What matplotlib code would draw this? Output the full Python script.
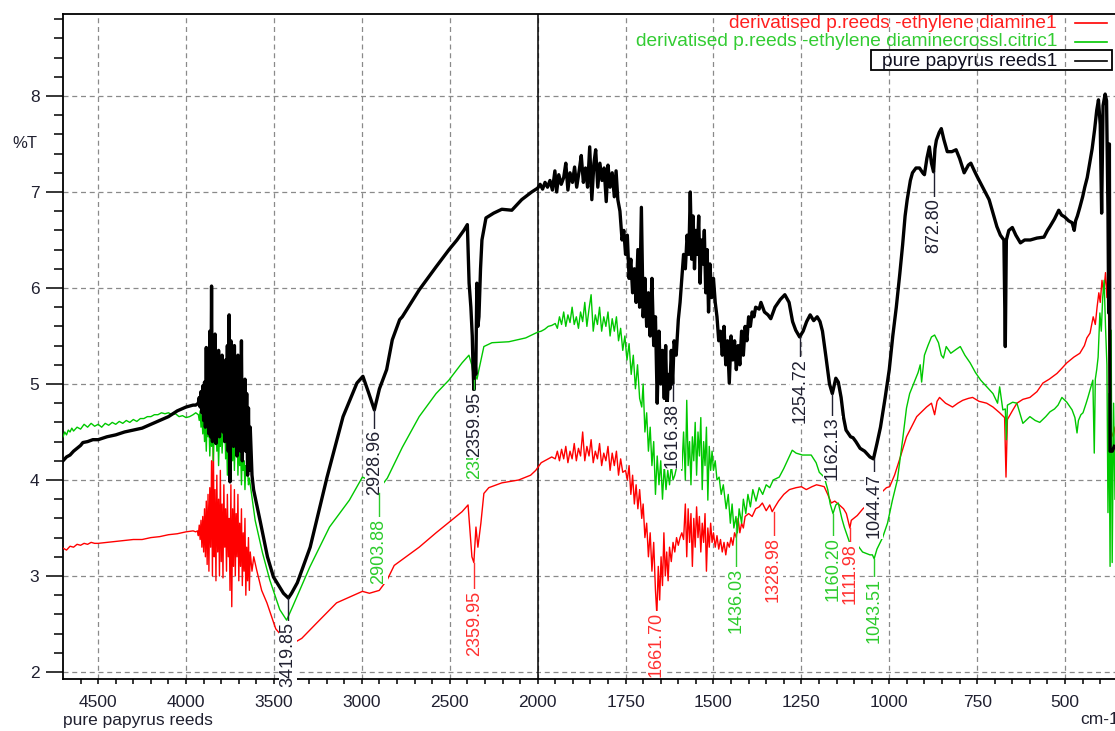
import numpy as np
import matplotlib.pyplot as plt
from matplotlib.lines import Line2D
from matplotlib.patches import Rectangle

plt.rcParams['font.family'] = ['Liberation Sans', 'DejaVu Sans']
NARROW = ['Liberation Sans Narrow', 'Liberation Sans', 'DejaVu Sans']

# ---- spectra (wavenumber cm-1, %T) ----
black_wn = [4700, 4680, 4660, 4640, 4620, 4600, 4587, 4560, 4530, 4500, 4450, 4400, 4350, 4300,
            4250, 4200, 4150, 4100, 4050, 4000, 3960, 3945,
            3930, 3925, 3920, 3915, 3910, 3905, 3900, 3895, 3890, 3885, 3880, 3875, 3870, 3865,
            3860, 3855, 3850, 3845, 3840, 3835, 3830, 3825, 3820, 3815, 3810, 3805, 3800, 3795,
            3790, 3785, 3780, 3775, 3770, 3765, 3760, 3755, 3750, 3745, 3740, 3735, 3730, 3725,
            3720, 3715, 3710, 3705, 3700, 3695, 3690, 3685, 3680, 3675, 3670, 3665, 3660, 3655,
            3650, 3645, 3640, 3635, 3625, 3616,
            3576, 3537, 3503, 3446, 3418, 3400, 3367, 3294, 3198, 3107, 3028, 2994, 2960, 2929,
            2900, 2859, 2827, 2785, 2770, 2674, 2578, 2504, 2459, 2420, 2400, 2390, 2380, 2372,
            2368, 2363, 2358, 2352, 2346, 2340, 2334, 2325, 2317, 2294, 2250, 2204, 2147, 2091,
            2034, 2000,
            1993, 1986, 1979, 1972, 1965, 1958, 1951, 1946, 1940, 1933, 1926, 1920, 1914, 1908,
            1901, 1895, 1889, 1882, 1876, 1870, 1864, 1858, 1852, 1846, 1840, 1835, 1829, 1823,
            1817, 1811, 1805, 1800, 1794, 1788, 1782, 1777, 1772, 1766, 1760,
            1755, 1750, 1745, 1740, 1735, 1730, 1725, 1720, 1715, 1710, 1705, 1700, 1695, 1690,
            1685, 1680, 1675, 1670, 1665, 1660, 1655, 1650, 1645, 1640, 1636, 1632, 1628, 1624,
            1620, 1616, 1612, 1606, 1600, 1595, 1590, 1585, 1580, 1575, 1570, 1566, 1562, 1558,
            1554, 1550, 1546, 1542, 1538, 1534, 1530, 1526, 1522, 1518, 1514, 1510, 1505, 1500,
            1495, 1490, 1485, 1480, 1475, 1470, 1465, 1460, 1455, 1450, 1445, 1440, 1435, 1430,
            1425, 1420, 1415, 1410, 1405, 1400, 1395, 1390, 1385, 1380, 1370, 1365, 1355, 1345,
            1337, 1325, 1310, 1297, 1285, 1275, 1266, 1255, 1245, 1235, 1225, 1215, 1205, 1197,
            1190, 1180, 1170, 1162, 1152, 1145, 1137, 1130, 1123, 1110, 1103, 1095, 1083, 1070,
            1055, 1045, 1035, 1025, 1012, 1000, 990, 980, 970, 962, 955, 949, 940, 934,
            924, 914, 905, 900, 893, 886, 880, 874, 870, 866, 858, 852, 845, 835,
            822, 810, 800, 787, 775, 768, 758, 750, 730, 716, 705, 694, 684, 674,
            670, 667, 660, 650, 640, 627, 615, 599, 580, 560, 550, 543, 530, 518,
            510, 501, 490, 480, 474, 470, 465, 458, 450, 444, 437, 430, 423, 416,
            410, 405, 400, 396, 392, 386, 382, 378, 376, 374, 372, 366, 360]
black_t = [4.20, 4.24, 4.26, 4.30, 4.33, 4.36, 4.39, 4.40, 4.42, 4.42, 4.45, 4.47, 4.50, 4.52,
           4.54, 4.58, 4.62, 4.66, 4.72, 4.76, 4.78, 4.78,
           4.80, 4.86, 4.76, 4.92, 4.70, 4.98, 4.62, 5.02, 4.55, 5.38, 4.60, 5.30, 4.48, 5.55,
           4.45, 6.02, 4.40, 5.45, 4.55, 5.52, 4.38, 5.20, 4.60, 5.35, 4.45, 5.10, 4.70, 5.30,
           4.50, 5.00, 4.40, 5.25, 4.62, 5.40, 4.30, 5.72, 3.98, 5.45, 4.50, 5.10, 4.35, 5.40,
           4.55, 5.00, 4.25, 5.30, 4.45, 5.15, 4.30, 5.45, 4.20, 5.00, 4.50, 5.05, 4.30, 4.90,
           4.05, 4.75, 4.10, 4.55, 4.05, 3.90,
           3.55, 3.20, 2.99, 2.82, 2.77, 2.82, 2.93, 3.30, 4.03, 4.66, 5.01, 5.08, 4.90, 4.73,
           4.95, 5.15, 5.46, 5.67, 5.70, 5.98, 6.22, 6.40, 6.50, 6.60, 6.66, 6.05, 5.80, 5.50,
           5.20, 4.94, 5.30, 5.10, 6.05, 5.60, 5.70, 6.20, 6.50, 6.73, 6.78, 6.82, 6.81, 6.92,
           7.00, 7.04,
           7.08, 7.03, 7.10, 7.05, 7.12, 7.02, 7.22, 7.00, 7.18, 7.08, 7.15, 7.30, 7.02, 7.20,
           7.10, 7.26, 7.05, 7.22, 7.38, 7.10, 7.25, 7.05, 7.47, 6.92, 7.30, 7.44, 7.05, 7.30,
           7.12, 7.25, 6.90, 7.28, 7.05, 7.20, 6.95, 7.22, 6.92, 6.80, 6.50,
           6.60, 6.35, 6.55, 6.10, 6.30, 5.95, 6.20, 5.85, 6.40, 5.80, 6.84, 5.70, 6.10, 5.60,
           5.95, 5.50, 6.10, 5.40, 5.70, 4.80, 5.55, 5.00, 5.35, 4.85, 5.40, 4.75, 5.10, 4.95,
           5.35, 5.00, 5.45, 5.30, 5.67, 5.85, 6.10, 6.35, 6.20, 6.55, 6.35, 7.00, 6.30, 6.75,
           6.20, 6.60, 6.35, 6.75, 6.05, 6.50, 6.25, 6.60, 5.95, 6.40, 5.75, 6.25, 5.90, 6.10,
           5.85, 5.70, 5.45, 5.55, 5.30, 5.60, 5.20, 5.45, 5.01, 5.50, 5.25, 5.45, 5.15, 5.40,
           5.20, 5.55, 5.30, 5.60, 5.45, 5.70, 5.60, 5.75, 5.70, 5.80, 5.78, 5.85, 5.75, 5.72,
           5.68, 5.80, 5.88, 5.93, 5.85, 5.65, 5.56, 5.49, 5.55, 5.65, 5.72, 5.66, 5.70, 5.65,
           5.55, 5.28, 5.00, 4.90, 5.06, 5.02, 4.86, 4.65, 4.52, 4.45, 4.44, 4.40, 4.33, 4.30,
           4.24, 4.22, 4.38, 4.55, 4.85, 5.15, 5.50, 5.80, 6.15, 6.45, 6.75, 6.92, 7.12, 7.20,
           7.25, 7.25, 7.20, 7.18, 7.35, 7.47, 7.30, 7.21, 7.45, 7.54, 7.62, 7.66, 7.55, 7.42,
           7.42, 7.44, 7.35, 7.20, 7.28, 7.30, 7.22, 7.16, 7.02, 6.92, 6.78, 6.64, 6.55, 6.50,
           5.39, 6.50, 6.60, 6.63, 6.55, 6.47, 6.50, 6.50, 6.52, 6.53, 6.60, 6.64, 6.72, 6.81,
           6.76, 6.74, 6.70, 6.68, 6.60, 6.70, 6.75, 6.84, 6.95, 7.05, 7.15, 7.30, 7.45, 7.65,
           7.85, 7.96, 7.70, 6.78, 7.90, 8.02, 7.95, 6.80, 5.74, 7.50, 4.30, 4.30, 4.35]

green_wn = [4700, 4690, 4680, 4670, 4660, 4650, 4640, 4620, 4600, 4580, 4560, 4540, 4520, 4500,
            4480, 4460, 4440, 4420, 4400, 4380, 4360, 4340, 4320, 4300, 4280, 4260, 4240, 4220,
            4200, 4180, 4160, 4140, 4120, 4100, 4080, 4060, 4040, 4020, 4000, 3980, 3960, 3945,
            3930, 3925, 3920, 3915, 3910, 3905, 3900, 3895, 3890, 3885, 3880, 3875, 3870, 3865,
            3860, 3855, 3850, 3845, 3840, 3835, 3830, 3825, 3820, 3815, 3810, 3805, 3800, 3795,
            3790, 3785, 3780, 3775, 3770, 3765, 3760, 3755, 3750, 3745, 3740, 3735, 3730, 3725,
            3720, 3715, 3710, 3705, 3700, 3695, 3690, 3685, 3680, 3675, 3670, 3665, 3660, 3655,
            3650, 3645, 3640,
            3607, 3565, 3524, 3467, 3428, 3394, 3297, 3184, 3071, 2997, 2960, 2930, 2904, 2880,
            2855, 2770, 2674, 2578, 2505, 2430, 2391, 2375, 2363, 2355, 2345, 2334, 2306, 2260,
            2164, 2068, 2000, 1990, 1980, 1970, 1960,
            1950, 1944, 1938, 1932, 1926, 1920, 1914, 1908, 1902, 1896, 1890, 1884, 1878, 1872,
            1866, 1860, 1854, 1848, 1842, 1836, 1830, 1824, 1818, 1812, 1806, 1800, 1794, 1788,
            1782, 1776, 1770, 1764, 1758, 1752, 1746, 1740, 1734, 1728, 1722, 1716, 1710, 1704,
            1700, 1695, 1690, 1685, 1680, 1675, 1670, 1665, 1660, 1655, 1650, 1645, 1640, 1635,
            1630, 1625, 1620, 1615, 1610, 1600,
            1595, 1590, 1585, 1580, 1576, 1572, 1568, 1564, 1560, 1556, 1552, 1548, 1544, 1540,
            1536, 1532, 1528, 1524, 1520, 1516, 1512, 1508, 1504, 1500, 1495, 1490, 1484, 1478,
            1472, 1464, 1458, 1452, 1447, 1442, 1436, 1432, 1427, 1420, 1415, 1408, 1402, 1395,
            1388, 1379, 1370, 1360, 1350, 1340, 1330, 1313, 1300, 1290, 1276, 1265, 1247, 1222,
            1208, 1199, 1185, 1175, 1168, 1160, 1152, 1145, 1135, 1128, 1113, 1094, 1076, 1055,
            1048, 1043, 1035, 1019, 1005, 991, 977, 962, 951, 942, 930, 918, 912, 908,
            900, 890, 880, 871, 860, 852, 846, 838, 825, 810, 798, 785, 770, 755,
            740, 720, 705, 692, 686, 677, 670, 667, 664, 649, 637, 620, 600, 585,
            572, 555, 543, 530, 520, 509, 495, 480, 472, 466, 462, 455, 449, 440,
            435, 428, 421, 417, 414, 410, 406, 401, 397, 393, 389, 385, 381, 378,
            375, 372, 369, 366, 362, 358]
green_t = [4.45, 4.50, 4.47, 4.52, 4.50, 4.54, 4.51, 4.55, 4.53, 4.58, 4.55, 4.59, 4.56, 4.58,
           4.55, 4.59, 4.57, 4.60, 4.58, 4.61, 4.59, 4.62, 4.60, 4.63, 4.61, 4.64, 4.64, 4.66,
           4.66, 4.68, 4.68, 4.70, 4.69, 4.70, 4.68, 4.69, 4.66, 4.67, 4.65, 4.66, 4.68, 4.70,
           4.68, 4.62, 4.72, 4.55, 4.68, 4.48, 4.70, 4.40, 4.62, 4.30, 4.65, 4.45, 4.60, 4.25,
           4.55, 4.35, 4.60, 4.20, 4.50, 4.38, 4.62, 4.30, 4.55, 4.15, 4.48, 4.35, 4.60, 4.28,
           4.52, 4.40, 4.70, 4.22, 4.50, 4.05, 4.45, 4.30, 4.55, 4.00, 4.40, 4.20, 4.50, 4.10,
           4.45, 4.25, 4.60, 4.05, 4.40, 4.15, 4.35, 3.95, 4.30, 4.10, 4.20, 3.90, 4.15, 4.05,
           4.10, 3.95, 4.02,
           3.58, 3.24, 2.96, 2.65, 2.54, 2.68, 3.09, 3.51, 3.79, 4.03, 4.00, 3.95, 3.86, 3.96,
           4.02, 4.34, 4.66, 4.90, 5.04, 5.22, 5.30, 5.20, 5.04, 5.10, 5.05, 5.15, 5.39, 5.43,
           5.44, 5.48, 5.54, 5.55, 5.57, 5.60, 5.61,
           5.63, 5.58, 5.70, 5.62, 5.75, 5.60, 5.72, 5.64, 5.80, 5.62, 5.70, 5.58, 5.75, 5.65,
           5.85, 5.60, 5.78, 5.93, 5.55, 5.72, 5.62, 5.80, 5.55, 5.70, 5.60, 5.75, 5.50, 5.68,
           5.55, 5.70, 5.45, 5.58, 5.35, 5.50, 5.25, 5.42, 5.10, 5.30, 4.95, 5.20, 4.85, 4.76,
           5.00, 4.50, 4.70, 4.30, 4.55, 4.15, 4.40, 3.85, 4.25, 3.95, 4.20, 3.80, 4.15, 3.90,
           4.10, 3.95, 4.15, 4.00, 4.05, 4.21,
           4.35, 4.10, 4.50, 4.00, 4.83, 4.15, 4.40, 3.95, 4.45, 4.20, 4.60, 4.05, 4.50, 4.25,
           4.65, 3.90, 4.40, 4.15, 4.55, 3.79, 4.35, 4.10, 4.30, 4.10, 4.20, 4.00, 4.03, 3.85,
           3.95, 3.70, 3.85, 3.55, 3.75, 3.50, 3.62, 3.45, 3.70, 3.55, 3.80, 3.65, 3.85, 3.72,
           3.90, 3.78, 3.92, 3.85, 3.95, 3.92, 4.00, 4.03, 4.12, 4.20, 4.31, 4.28, 4.26, 4.26,
           4.18, 4.08, 4.03, 3.90, 3.75, 3.65, 3.74, 3.76, 3.60, 3.51, 3.35, 3.34, 3.25, 3.22,
           3.22, 3.18, 3.28, 3.40, 3.55, 3.79, 4.00, 4.42, 4.75, 4.90, 5.01, 5.12, 5.20, 5.02,
           5.30, 5.40, 5.49, 5.51, 5.43, 5.30, 5.27, 5.39, 5.32, 5.36, 5.39, 5.30, 5.22, 5.12,
           5.04, 4.96, 4.90, 4.80, 4.97, 4.73, 4.74, 4.42, 4.78, 4.81, 4.80, 4.59, 4.66, 4.62,
           4.60, 4.66, 4.71, 4.74, 4.78, 4.86, 4.81, 4.73, 4.65, 4.49, 4.62, 4.68, 4.70, 4.80,
           4.86, 4.95, 5.04, 4.28, 5.05, 5.15, 5.28, 5.74, 5.55, 5.90, 6.08, 5.60, 5.20, 3.66,
           4.90, 3.10, 5.56, 3.14, 4.80, 3.80]

red_wn = [4700, 4680, 4660, 4640, 4620, 4600, 4580, 4560, 4540, 4520, 4500, 4450, 4400, 4350,
          4300, 4250, 4200, 4150, 4100, 4050, 4000, 3960, 3945,
          3935, 3930, 3925, 3920, 3915, 3910, 3905, 3900, 3895, 3890, 3885, 3880, 3875, 3870,
          3865, 3860, 3855, 3850, 3845, 3840, 3835, 3830, 3825, 3820, 3815, 3810, 3805, 3800,
          3795, 3790, 3785, 3780, 3775, 3770, 3765, 3760, 3755, 3750, 3745, 3740, 3735, 3730,
          3725, 3720, 3715, 3710, 3705, 3700, 3695, 3690, 3685, 3680, 3675, 3670, 3665, 3660,
          3655, 3650, 3645, 3640, 3635, 3625, 3615,
          3598, 3570, 3540, 3507, 3490, 3467, 3430, 3390, 3342, 3257, 3144, 3071, 2997, 2957,
          2901, 2856, 2816, 2771, 2674, 2578, 2504, 2430, 2396, 2374, 2363, 2351, 2340, 2323,
          2306, 2278, 2204, 2108, 2040, 2011, 1990, 1960,
          1950, 1944, 1938, 1932, 1926, 1920, 1914, 1908, 1902, 1896, 1890, 1884, 1878, 1872,
          1866, 1860, 1854, 1848, 1842, 1836, 1830, 1824, 1818, 1812, 1806, 1800, 1794, 1788,
          1782, 1776, 1770, 1764, 1758,
          1750, 1745, 1740, 1735, 1730, 1725, 1720, 1715, 1710, 1704, 1700, 1695, 1690, 1685,
          1680, 1675, 1670, 1665, 1661, 1657, 1653, 1649, 1645, 1641, 1637, 1633, 1629, 1625,
          1620, 1615, 1610, 1605, 1600, 1595, 1590, 1585, 1580, 1576, 1572, 1568, 1564, 1560,
          1556, 1552, 1548, 1544, 1540, 1536, 1532, 1528, 1524, 1520, 1516, 1512, 1508, 1504,
          1500, 1495, 1490, 1485, 1480, 1475, 1470, 1465, 1460, 1455, 1450, 1445, 1440, 1435,
          1430, 1425, 1420, 1415, 1410, 1400, 1390, 1380, 1370, 1361, 1350, 1340, 1333, 1325,
          1315, 1300, 1284, 1265, 1250, 1236, 1220, 1207, 1195, 1185, 1175, 1165, 1155, 1142,
          1130, 1122, 1112, 1108, 1091, 1075, 1050, 1025, 1008, 999, 985, 971, 951, 922,
          894, 880, 871, 864, 857, 840, 820, 805, 791, 775, 763, 745, 723, 705,
          686, 672, 668, 664, 650, 637, 620, 600, 580, 563, 545, 523, 510, 495,
          475, 458, 445, 438, 429, 420, 414, 409, 404, 400, 395, 390, 385, 381,
          378, 375, 372, 368, 363, 358]
red_t = [3.29, 3.27, 3.31, 3.30, 3.33, 3.32, 3.34, 3.33, 3.35, 3.34, 3.34, 3.35, 3.36, 3.37,
         3.38, 3.38, 3.40, 3.41, 3.43, 3.44, 3.46, 3.47, 3.46,
         3.47, 3.42, 3.53, 3.38, 3.58, 3.30, 3.62, 3.25, 3.70, 3.20, 3.78, 3.12, 3.85, 3.05,
         3.92, 3.30, 4.20, 3.00, 4.50, 3.20, 3.90, 2.95, 4.05, 3.25, 3.80, 3.00, 4.10, 3.15,
         3.75, 2.98, 3.95, 3.30, 3.70, 3.05, 3.85, 3.20, 3.60, 2.85, 3.95, 2.68, 3.70, 3.10,
         3.90, 3.00, 3.65, 3.20, 3.85, 2.95, 3.55, 3.10, 3.70, 2.90, 3.45, 3.05, 3.60, 2.80,
         3.30, 2.95, 3.40, 2.85, 3.25, 3.05, 3.20,
         3.06, 2.85, 2.72, 2.54, 2.45, 2.40, 2.32, 2.30, 2.35, 2.51, 2.72, 2.78, 2.84, 2.82,
         2.85, 2.96, 3.11, 3.17, 3.30, 3.45, 3.56, 3.67, 3.74, 3.20, 3.14, 3.51, 3.30, 3.55,
         3.86, 3.92, 3.97, 4.00, 4.05, 4.10, 4.18, 4.24,
         4.22, 4.30, 4.20, 4.32, 4.22, 4.35, 4.18, 4.30, 4.22, 4.38, 4.20, 4.33, 4.25, 4.50,
         4.20, 4.35, 4.25, 4.42, 4.18, 4.30, 4.22, 4.38, 4.15, 4.28, 4.20, 4.35, 4.10, 4.28,
         4.15, 4.30, 4.05, 4.22, 4.08,
         4.10, 4.00, 4.15, 3.85, 4.05, 3.75, 3.95, 3.70, 3.90, 3.60, 3.75, 3.40, 3.55, 3.20,
         3.45, 3.05, 3.35, 2.85, 2.60, 3.10, 2.75, 3.20, 2.90, 3.45, 3.00, 3.25, 2.95, 3.30,
         3.15, 3.35, 3.25, 3.40, 3.32, 3.40, 3.45, 3.38, 3.75, 3.20, 3.70, 3.35, 3.65, 3.10,
         3.60, 3.30, 3.72, 3.40, 3.62, 3.25, 3.55, 3.35, 3.65, 3.05, 3.50, 3.30, 3.55, 3.35,
         3.45, 3.30, 3.42, 3.28, 3.38, 3.25, 3.35, 3.22, 3.35, 3.30, 3.40, 3.32, 3.45, 3.40,
         3.60, 3.45, 3.55, 3.50, 3.62, 3.65, 3.62, 3.70, 3.72, 3.76, 3.68, 3.74, 3.67, 3.72,
         3.78, 3.85, 3.90, 3.92, 3.93, 3.90, 3.93, 3.95, 3.94, 3.93, 3.85, 3.76, 3.78, 3.74,
         3.70, 3.65, 3.50, 3.58, 3.63, 3.70, 3.78, 3.86, 3.92, 3.93, 4.05, 4.21, 4.45, 4.66,
         4.76, 4.80, 4.68, 4.82, 4.86, 4.80, 4.76, 4.80, 4.83, 4.85, 4.86, 4.82, 4.80, 4.76,
         4.70, 4.65, 4.03, 4.63, 4.72, 4.80, 4.84, 4.86, 4.92, 5.01, 5.05, 5.11, 5.16, 5.22,
         5.28, 5.32, 5.40, 5.48, 5.53, 5.70, 5.62, 5.80, 5.95, 5.85, 6.08, 5.95, 6.16, 5.90,
         6.16, 5.40, 4.34, 4.50, 4.45, 4.55]

# peak labels: text, wavenumber, top of label (%T), curve value, colour
BLK, GRN, RED = '#202030', '#2ccc2c', '#ff3030'
peak_labels = [
    ('3419.85', 3419.85, 2.52, 2.77, BLK),
    ('2928.96', 2928.96, 4.52, 4.73, BLK),
    ('2903.88', 2903.88, 3.60, 3.86, GRN),
    ('2359.95', 2359.95, 4.69, 5.04, GRN),
    ('2359.95', 2359.95, 4.92, 4.94, BLK),
    ('2359.95', 2359.95, 2.85, 3.14, RED),
    ('1661.70', 1661.70, 2.63, 2.63, RED),
    ('1616.38', 1616.38, 4.80, 5.00, BLK),
    ('1436.03', 1436.03, 3.08, 3.50, GRN),
    ('1328.98', 1328.98, 3.41, 3.67, RED),
    ('1254.72', 1254.72, 5.27, 5.49, BLK),
    ('1162.13', 1162.13, 4.66, 4.90, BLK),
    ('1160.20', 1160.20, 3.41, 3.65, GRN),
    ('1111.98', 1111.98, 3.34, 3.50, RED),
    ('1044.47', 1044.47, 4.07, 4.22, BLK),
    ('1043.51', 1043.51, 2.98, 3.18, GRN),
    ('872.80', 872.80, 6.94, 7.21, BLK),
]

legend_items = [
    ('derivatised p.reeds -ethylene diamine1', '#ff2020', '#ff0000'),
    ('derivatised p.reeds -ethylene diaminecrossl.citric1', '#33cc33', '#00c800'),
    ('pure papyrus reeds1', '#101020', 'black'),
]

W, H = 1115, 731


def fx(px):
    return px / W


def fy(py):
    return 1 - py / H


# axis is 500 cm-1 per division above 2000, 250 per division below
def fwd(x):
    x = np.asarray(x, dtype=float)
    return np.where(x >= 2000, (x - 2000) / 2.0, x - 2000)


def inv(u):
    u = np.asarray(u, dtype=float)
    return np.where(u >= 0, 2000 + 2.0 * u, u + 2000)


fig = plt.figure(figsize=(W / 100, H / 100), dpi=100)
ax = fig.add_axes([fx(63), fy(679), fx(W - 63), (679 - 14) / H])
ax.set_xscale('function', functions=(fwd, inv))
ax.set_xlim(4700, 358)
ax.set_ylim(1.927, 8.854)

ax.plot(red_wn, red_t, color='#ff0000', lw=1.0, zorder=3)
ax.plot(green_wn, green_t, color='#00c800', lw=1.0, zorder=4)
ax.plot(black_wn, black_t, color='black', lw=2.4, zorder=5)

major_x = [4500, 4000, 3500, 3000, 2500, 2000, 1750, 1500, 1250, 1000, 750, 500]
minor_x = [w for w in range(4600, 2000, -100) if w not in major_x] + \
          [w for w in range(1950, 360, -50) if w not in major_x]
ax.set_xticks(major_x)
ax.set_xticklabels([str(w) for w in major_x])
ax.set_xticks(minor_x, minor=True)
ax.set_yticks(range(2, 9))
ax.set_yticks(np.arange(2.0, 8.85, 0.2), minor=True)

ax.tick_params(axis='x', which='both', direction='out', length=3.8, width=1.1,
               pad=8, labelsize=12.5, colors='black')
ax.tick_params(axis='y', which='major', direction='out', length=12, width=1.1,
               pad=5, labelsize=12.5)
ax.tick_params(axis='y', which='minor', direction='out', length=6.5, width=1.1)
for lab in ax.get_xticklabels() + ax.get_yticklabels():
    lab.set_color('#202030')

ax.grid(which='major', color='#8a8a8a', linestyle=(0, (4, 3)), linewidth=0.9, zorder=1)
ax.axvline(2000, color='black', lw=1.1, zorder=2)
for s in ['left', 'top', 'bottom']:
    ax.spines[s].set_linewidth(1.3)
ax.spines['right'].set_visible(False)

# peak markers
for i, (txt, wn, top, cur, col) in enumerate(peak_labels):
    ax.plot([wn, wn], [cur, top], color=col, lw=1.0, zorder=6 + 2 * i)
    ax.text(wn, top, txt, rotation=90, ha='center', va='top', color=col,
            fontsize=13, family=NARROW, zorder=7 + 2 * i,
            bbox=dict(facecolor='white', edgecolor='none', pad=0.6))

# legend drawn by hand: text right aligned, sample line after it
for (txt, tcol, lcol), py in zip(legend_items, [23, 42, 61]):
    fig.text(fx(1057), fy(py), txt, color=tcol, ha='right', va='center', fontsize=13.8)
    fig.add_artist(Line2D([fx(1075), fx(1107)], [fy(py), fy(py)], color=lcol, lw=1.2))
fig.add_artist(Rectangle((fx(871), fy(70)), fx(1112 - 871), 20 / H, fill=False,
                         edgecolor='black', lw=1.3, transform=fig.transFigure))

fig.text(fx(12), fy(143), '%T', ha='left', va='center', fontsize=12, color='#202030')
fig.text(fx(63), fy(720), 'pure papyrus reeds', ha='left', va='center', fontsize=12.5,
         color='#202030')
fig.text(fx(1080), fy(720), 'cm-1', ha='left', va='center', fontsize=12.5, color='#202030')

fig.savefig('out.png', dpi=100)
